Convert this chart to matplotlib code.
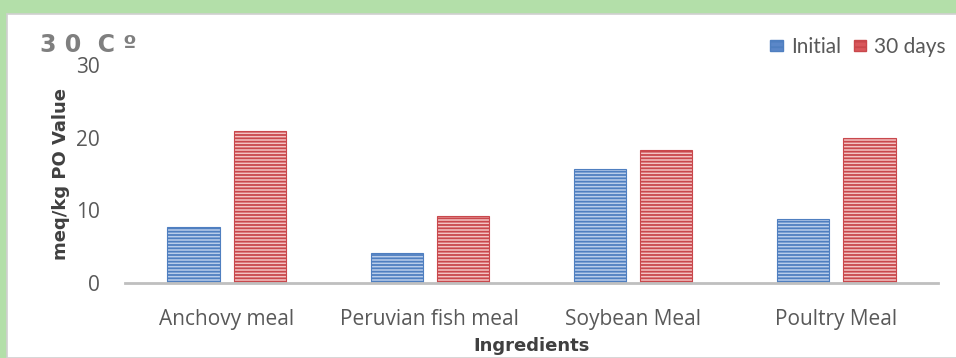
import matplotlib.pyplot as plt
import matplotlib.patches as mpatches
import numpy as np

categories = ['Anchovy meal', 'Peruvian fish meal', 'Soybean Meal', 'Poultry Meal']
initial = [7.7, 4.1, 15.7, 8.8]
days30 = [20.9, 9.2, 18.3, 19.9]
yticks = [0, 10, 20, 30]

plt.rcParams['hatch.linewidth'] = 1.3

fig = plt.figure(figsize=(9.56, 3.58), dpi=100)
fig.patch.set_facecolor('#b3dfa9')

# white card behind the chart
card = mpatches.Rectangle((7/956, 0), 1, 1 - 14/358, transform=fig.transFigure,
                          facecolor='white', edgecolor='#d0d0d0', linewidth=1.2, zorder=-10)
fig.patches.append(card)

ax = fig.add_axes([125/956, 1 - 283/358, (938 - 125)/956, (283 - 65)/358])
ax.set_facecolor('none')

x = np.arange(len(categories))
w = 0.256
off = 0.163
ax.bar(x - off, initial, w, color='#b9cdea', edgecolor='#4f7fc0', hatch='-----', linewidth=0.8, zorder=2)
ax.bar(x + off, days30, w, color='#f3c3c3', edgecolor='#c9484c', hatch='-----', linewidth=0.8, zorder=2)

ax.set_xlim(-0.5, len(categories) - 0.5)
ax.set_ylim(0, 30)
ax.set_yticks(yticks)
ax.set_xticks(x, categories)
for s in ['top', 'right', 'left']:
    ax.spines[s].set_visible(False)
ax.spines['bottom'].set_color('#bfbfbf')
ax.spines['bottom'].set_linewidth(2)
ax.tick_params(length=0, labelsize=15, colors='#595959')
for t in ax.get_xticklabels() + ax.get_yticklabels():
    t.set_fontfamily('Open Sans')
ax.tick_params(axis='x', pad=19)
ax.tick_params(axis='y', pad=18)

ax.set_xlabel('Ingredients', fontsize=13, fontweight='bold', color='#404040', labelpad=5)
ax.set_ylabel('meq/kg PO Value', fontsize=13, fontweight='bold', color='#404040')
ax.yaxis.set_label_coords(-0.068, 0.5)

fig.text(40/956, 1 - 45/358, '3 0  C º', fontsize=17, fontweight='bold', color='#7f7f7f', va='center')

h1 = mpatches.Patch(facecolor='#5b87c8', edgecolor='#4f7fc0', hatch='---')
h2 = mpatches.Patch(facecolor='#d9575b', edgecolor='#c9484c', hatch='---')
fig.legend([h1, h2], ['Initial', '30 days'], loc='center left', bbox_to_anchor=(768/956, 1 - 47/358),
           ncol=2, frameon=False, handlelength=0.6, handleheight=0.45,
           handletextpad=0.4, columnspacing=0.6, borderpad=0.1, borderaxespad=0,
           prop={'family': 'Lato', 'size': 15})
for t in fig.legends[0].get_texts():
    t.set_color('#595959')

fig.savefig('out.png', dpi=100)
